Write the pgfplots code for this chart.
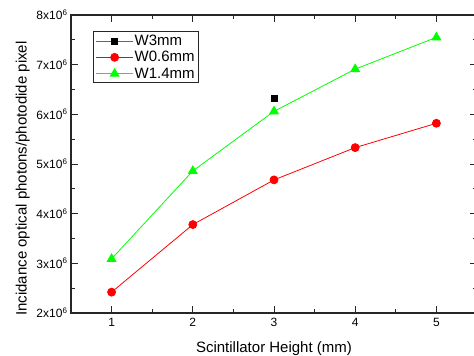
\documentclass[border=0pt]{standalone}
\usepackage{fontspec}
\setmainfont{Liberation Sans}
\usepackage{pgfplots}
\pgfplotsset{compat=1.18}
\usetikzlibrary{calc}
\begin{document}
\begin{tikzpicture}
\begin{axis}[name=ax, width=406pt, height=298pt, scale only axis,
  xmin=0.5, xmax=5.5, ymin=2e6, ymax=8e6,
  xtick={1,2,3,4,5}, minor x tick num=1,
  ytick={2e6,3e6,4e6,5e6,6e6,7e6,8e6},
  yticklabels={2x10\textsuperscript{6},3x10\textsuperscript{6},4x10\textsuperscript{6},5x10\textsuperscript{6},6x10\textsuperscript{6},7x10\textsuperscript{6},8x10\textsuperscript{6}},
  scaled y ticks=false,
  minor y tick num=1,
  tick align=inside, major tick length=7pt, minor tick length=4pt,
  axis line style={line width=1.2pt, black!85},
  every tick/.style={line width=1pt, black!85},
  /pgf/number format/assume math mode=true,
  tick label style={font=\fontsize{12}{14}\selectfont},
  xticklabel style={yshift=-2pt},
  xlabel={Scintillator Height (mm)},
  ylabel={Incidance optical photons/photodide pixel},
  label style={font=\fontsize{15}{18}\selectfont},
  xlabel style={at={(ticklabel cs:0.5)}, yshift=-8pt},
  ylabel style={at={(ticklabel cs:0.451)}},
  legend style={at={(rel axis cs:0.055,0.945)}, anchor=north west, draw=black!85, line width=0.8pt,
    font=\fontsize{15}{16}\selectfont, inner xsep=2pt, inner ysep=2pt, row sep=2pt,
    nodes={inner sep=1.2pt}},
  legend cell align=left,
  legend image code/.code={\draw[mark repeat=2,mark phase=2,line width=0.8pt] plot coordinates {(0pt,0pt) (18.5pt,0pt) (37pt,0pt)};},
]
\addplot[black!60, line width=0.8pt, mark=square*, mark size=3pt, mark options={black, draw=black}] coordinates {(3,6.33e6)};
\addlegendentry{W3mm}
\addplot[red, line width=0.8pt, mark=*, mark size=4pt, mark options={red}] coordinates {
(1,2.42e6) (2,3.78e6) (3,4.68e6) (4,5.33e6) (5,5.82e6)};
\addlegendentry{W0.6mm}
\addplot[green, line width=0.8pt, mark=triangle*, mark size=5pt, mark options={green}] coordinates {
(1,3.09e6) (2,4.86e6) (3,6.06e6) (4,6.91e6) (5,7.55e6)};
\addlegendentry{W1.4mm}
\end{axis}
\pgfresetboundingbox
\path[use as bounding box] ($(ax.south west)+(-71pt,-43pt)$) rectangle ($(ax.north west)+(403pt,15pt)$);
\end{tikzpicture}
\end{document}
